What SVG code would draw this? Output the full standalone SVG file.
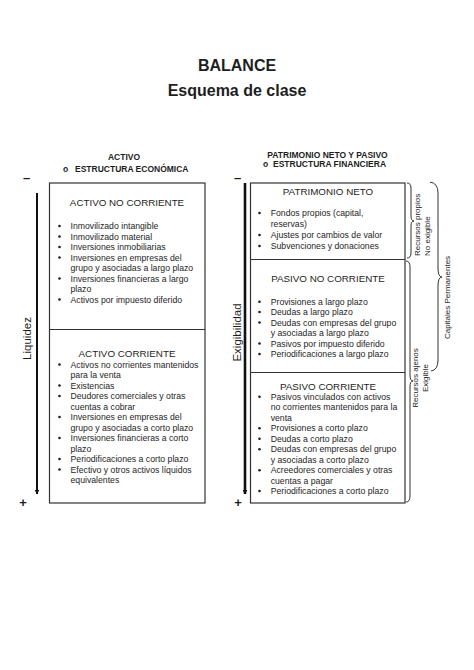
<svg xmlns="http://www.w3.org/2000/svg" width="474" height="670" viewBox="0 0 474 670">
<style>
text{font-family:"Liberation Sans",Arial,sans-serif;fill:#1e1e1e}
.t{font-size:16px;font-weight:bold;text-anchor:middle}
.h{font-size:8.5px;font-weight:bold}
.sec{font-size:9.8px;text-anchor:middle}
.it{font-size:8.7px}
.ax{font-size:11.5px;text-anchor:middle}
.br{font-size:8px}
.box{fill:#fff;stroke:#333;stroke-width:1.2}
.div{stroke:#333;stroke-width:1.2}
.bul{fill:#1e1e1e}
.brace{fill:none;stroke:#333;stroke-width:1}
.sign{font-size:13px;font-weight:bold;text-anchor:middle}
</style>
<defs>
<marker id="ah" viewBox="0 0 10 10" refX="9" refY="5" markerWidth="5" markerHeight="5" orient="auto" markerUnits="userSpaceOnUse">
<path d="M0,0 L10,5 L0,10 z" fill="#111"/>
</marker>
</defs>
<rect width="474" height="670" fill="#fff"/>

<g id="title">
<text class="t" x="237" y="71">BALANCE</text>
<text class="t" x="237" y="95.5">Esquema de clase</text>
</g>

<g id="header-activo">
<text class="h" x="124" y="159.5" text-anchor="middle">ACTIVO</text>
<text class="h" x="63" y="171.5">o</text>
<text class="h" x="75" y="171.5">ESTRUCTURA ECONÓMICA</text>
</g>

<g id="header-pasivo">
<text class="h" x="327.5" y="157.5" text-anchor="middle">PATRIMONIO NETO Y PASIVO</text>
<text class="h" x="263" y="167">o</text>
<text class="h" x="273" y="167">ESTRUCTURA FINANCIERA</text>
</g>

<g id="activo-box">
<rect class="box" x="49.5" y="183" width="155.5" height="320"/>
<line class="div" x1="49.5" y1="329.5" x2="205" y2="329.5"/>
</g>

<g id="activo-no-corriente">
<text class="sec" x="127" y="205.5">ACTIVO NO CORRIENTE</text>
<g class="it">
<circle class="bul" cx="59.5" cy="226" r="1.3"/><text class="it" x="70.5" y="229">Inmovilizado intangible</text>
<circle class="bul" cx="59.5" cy="236.5" r="1.3"/><text class="it" x="70.5" y="239.5">Inmovilizado material</text>
<circle class="bul" cx="59.5" cy="247" r="1.3"/><text class="it" x="70.5" y="250">Inversiones inmobiliarias</text>
<circle class="bul" cx="59.5" cy="257.5" r="1.3"/><text class="it" x="70.5" y="260.5">Inversiones en empresas del</text>
<text class="it" x="70.5" y="271">grupo y asociadas a largo plazo</text>
<circle class="bul" cx="59.5" cy="278.5" r="1.3"/><text class="it" x="70.5" y="281.5">Inversiones financieras a largo</text>
<text class="it" x="70.5" y="292">plazo</text>
<circle class="bul" cx="59.5" cy="299.5" r="1.3"/><text class="it" x="70.5" y="302.5">Activos por impuesto diferido</text>
</g>
</g>

<g id="activo-corriente">
<text class="sec" x="127" y="356.5">ACTIVO CORRIENTE</text>
<circle class="bul" cx="59.5" cy="364.5" r="1.3"/><text class="it" x="70.5" y="367.5">Activos no corrientes mantenidos</text>
<text class="it" x="70.5" y="378">para la venta</text>
<circle class="bul" cx="59.5" cy="385.5" r="1.3"/><text class="it" x="70.5" y="388.5">Existencias</text>
<circle class="bul" cx="59.5" cy="396" r="1.3"/><text class="it" x="70.5" y="399">Deudores comerciales y otras</text>
<text class="it" x="70.5" y="409.5">cuentas a cobrar</text>
<circle class="bul" cx="59.5" cy="417" r="1.3"/><text class="it" x="70.5" y="420">Inversiones en empresas del</text>
<text class="it" x="70.5" y="430.5">grupo y asociadas a corto plazo</text>
<circle class="bul" cx="59.5" cy="438" r="1.3"/><text class="it" x="70.5" y="441">Inversiones financieras a corto</text>
<text class="it" x="70.5" y="451.5">plazo</text>
<circle class="bul" cx="59.5" cy="459" r="1.3"/><text class="it" x="70.5" y="462">Periodificaciones a corto plazo</text>
<circle class="bul" cx="59.5" cy="469.5" r="1.3"/><text class="it" x="70.5" y="472.5">Efectivo y otros activos líquidos</text>
<text class="it" x="70.5" y="483">equivalentes</text>
</g>

<g id="pasivo-box">
<rect class="box" x="250.5" y="183" width="154.5" height="320"/>
<line class="div" x1="250.5" y1="259.5" x2="405" y2="259.5"/>
<line class="div" x1="250.5" y1="372.5" x2="405" y2="372.5"/>
</g>

<g id="patrimonio-neto">
<text class="sec" x="328" y="195">PATRIMONIO NETO</text>
<circle class="bul" cx="259.5" cy="213" r="1.3"/><text class="it" x="270.7" y="216">Fondos propios (capital,</text>
<text class="it" x="270.7" y="227">reservas)</text>
<circle class="bul" cx="259.5" cy="235" r="1.3"/><text class="it" x="270.7" y="238">Ajustes por cambios de valor</text>
<circle class="bul" cx="259.5" cy="246" r="1.3"/><text class="it" x="270.7" y="249">Subvenciones y donaciones</text>
</g>

<g id="pasivo-no-corriente">
<text class="sec" x="328" y="281.7">PASIVO NO CORRIENTE</text>
<circle class="bul" cx="259.5" cy="301.7" r="1.3"/><text class="it" x="270.7" y="304.7">Provisiones a largo plazo</text>
<circle class="bul" cx="259.5" cy="312" r="1.3"/><text class="it" x="270.7" y="315">Deudas a largo plazo</text>
<circle class="bul" cx="259.5" cy="322.5" r="1.3"/><text class="it" x="270.7" y="325.5">Deudas con empresas del grupo</text>
<text class="it" x="270.7" y="336">y asociadas a largo plazo</text>
<circle class="bul" cx="259.5" cy="343.5" r="1.3"/><text class="it" x="270.7" y="346.5">Pasivos por impuesto diferido</text>
<circle class="bul" cx="259.5" cy="354" r="1.3"/><text class="it" x="270.7" y="357">Periodificaciones a largo plazo</text>
</g>

<g id="pasivo-corriente">
<text class="sec" x="328" y="389.5">PASIVO CORRIENTE</text>
<circle class="bul" cx="259.5" cy="396.7" r="1.3"/><text class="it" x="270.7" y="399.7">Pasivos vinculados con activos</text>
<text class="it" x="270.7" y="410.2">no corrientes mantenidos para la</text>
<text class="it" x="270.7" y="420.7">venta</text>
<circle class="bul" cx="259.5" cy="428.2" r="1.3"/><text class="it" x="270.7" y="431.2">Provisiones a corto plazo</text>
<circle class="bul" cx="259.5" cy="438.7" r="1.3"/><text class="it" x="270.7" y="441.7">Deudas a corto plazo</text>
<circle class="bul" cx="259.5" cy="449.2" r="1.3"/><text class="it" x="270.7" y="452.2">Deudas con empresas del grupo</text>
<text class="it" x="270.7" y="462.7">y asociadas a corto plazo</text>
<circle class="bul" cx="259.5" cy="470.2" r="1.3"/><text class="it" x="270.7" y="473.2">Acreedores comerciales y otras</text>
<text class="it" x="270.7" y="483.5">cuentas a pagar</text>
<circle class="bul" cx="259.5" cy="491" r="1.3"/><text class="it" x="270.7" y="494">Periodificaciones a corto plazo</text>
</g>

<g id="connectors">
<line x1="37" y1="193" x2="37" y2="494" stroke="#111" stroke-width="2" marker-end="url(#ah)"/>
<line x1="245" y1="183" x2="245" y2="494" stroke="#111" stroke-width="2.6" marker-end="url(#ah)"/>
<path class="brace" d="M407,183 Q411,183 411,188 L411,216 Q411,221 414,221 Q411,221 411,226 L411,253 Q411,258 407,258"/>
<path class="brace" d="M406,261 Q410,261 410,267 L410,375 Q410,381 413,381 Q410,381 410,387 L410,496 Q410,502 406,502"/>
<path class="brace" d="M430,182 Q438,183 438,193 L438,268 Q438,277 442,277 Q438,277 438,286 L438,360 Q438,370 431,371"/>
</g>

<g id="axis-liquidez">
<text class="sign" x="26.5" y="182">–</text>
<text class="sign" x="23" y="506.5">+</text>
<text class="ax" transform="translate(31,338.5) rotate(-90)">Liquidez</text>
</g>

<g id="axis-exigibilidad">
<text class="sign" x="237.5" y="182">–</text>
<text class="sign" x="238" y="506.5">+</text>
<text class="ax" transform="translate(241,332.5) rotate(-90)">Exigibilidad</text>
</g>

<g id="labels-braces">
<text class="br" transform="translate(420,256) rotate(-90)">Recursos propios</text>
<text class="br" transform="translate(429.5,256) rotate(-90)">No exigible</text>
<text class="br" text-anchor="middle" transform="translate(418,378) rotate(-90)">Recursos ajenos</text>
<text class="br" text-anchor="middle" transform="translate(428,378) rotate(-90)">Exigible</text>
<text class="br" text-anchor="middle" transform="translate(449.5,297.5) rotate(-90)">Capitales Permanentes</text>
</g>
</svg>
